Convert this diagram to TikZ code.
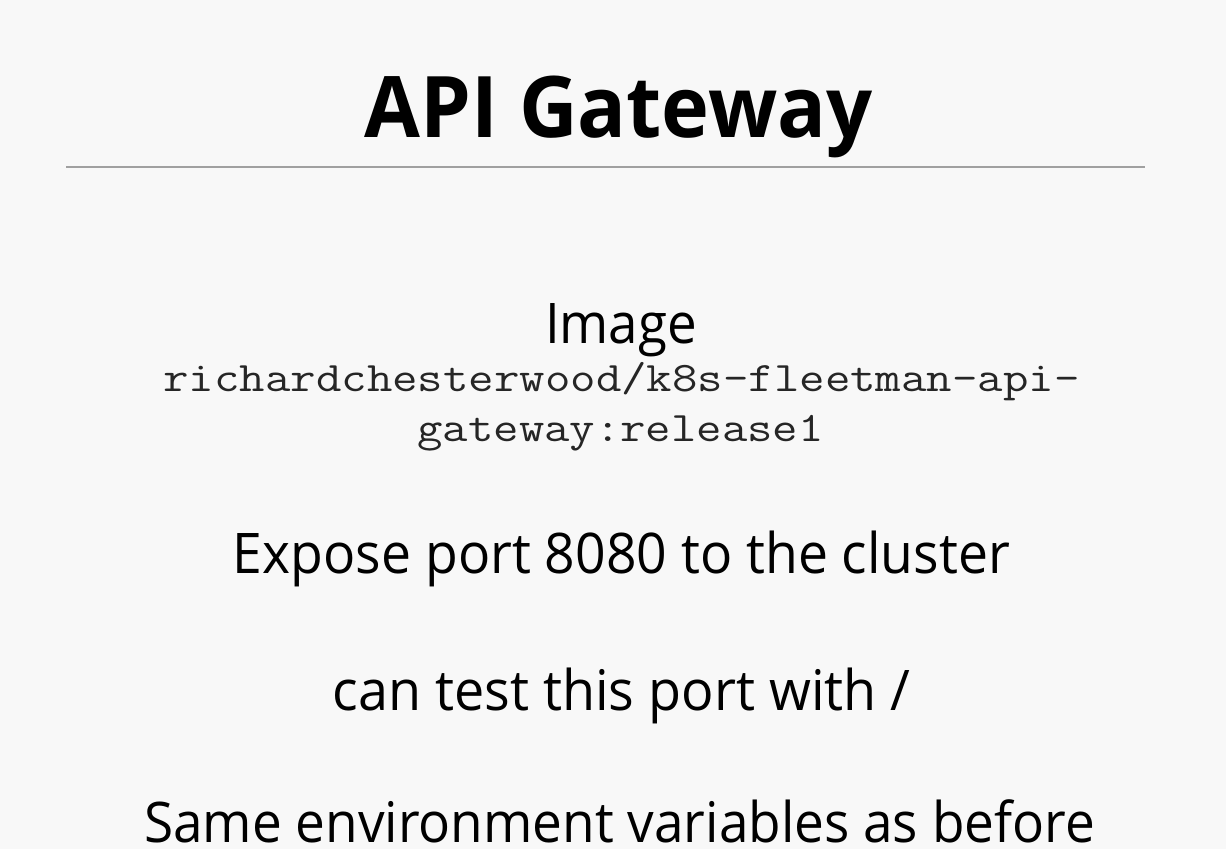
\documentclass[tikz,border=0pt]{standalone}
\usepackage{fontspec}
\usepackage{graphicx}
\setmainfont{Open Sans}
\definecolor{slidebg}{HTML}{F8F8F8}
\definecolor{rulegray}{HTML}{A0A0A0}
\definecolor{monoink}{HTML}{262626}
\newcommand\fitw[2]{\resizebox{#1}{\height}{#2}}
\begin{document}
\begin{tikzpicture}[x=1pt,y=-1pt,
  txt/.style={inner sep=0pt, outer sep=0pt, anchor=base, text=black},
  titletxt/.style={txt, font=\fontsize{85}{90}\selectfont\bfseries},
  bodytxt/.style={txt, font=\fontsize{56}{60}\selectfont},
  monotxt/.style={txt, text=monoink, font=\ttfamily\fontsize{42}{46}\selectfont}]
\useasboundingbox (0,0) rectangle (1226,849);
\fill[slidebg] (0,0) rectangle (1226,849);
\node[titletxt] (title) at (618.5,137) {\fitw{508pt}{API Gateway}};
\coordinate (ruleL) at (66,167);
\coordinate (ruleR) at (1145,167);
\draw[rulegray, line width=2pt] (ruleL) -- (ruleR);
\node[bodytxt] (image) at (621,343) {\fitw{152pt}{Image}};
\node[monotxt] (img1) at (621.5,391) {\fitw{916pt}{richardchesterwood/k8s-fleetman-api-}};
\node[monotxt] (img2) at (620.5,441) {\fitw{406pt}{gateway:release1}};
\node[bodytxt] (expose) at (621.5,573) {\fitw{777pt}{Expose port 8080 to the cluster}};
\node[bodytxt] (test) at (621.5,710) {\fitw{578pt}{can test this port with /}};
\node[bodytxt, text depth=0pt] (env) at (619.5,842) {\fitw{951pt}{Same environment variables as before}};
\end{tikzpicture}
\end{document}
